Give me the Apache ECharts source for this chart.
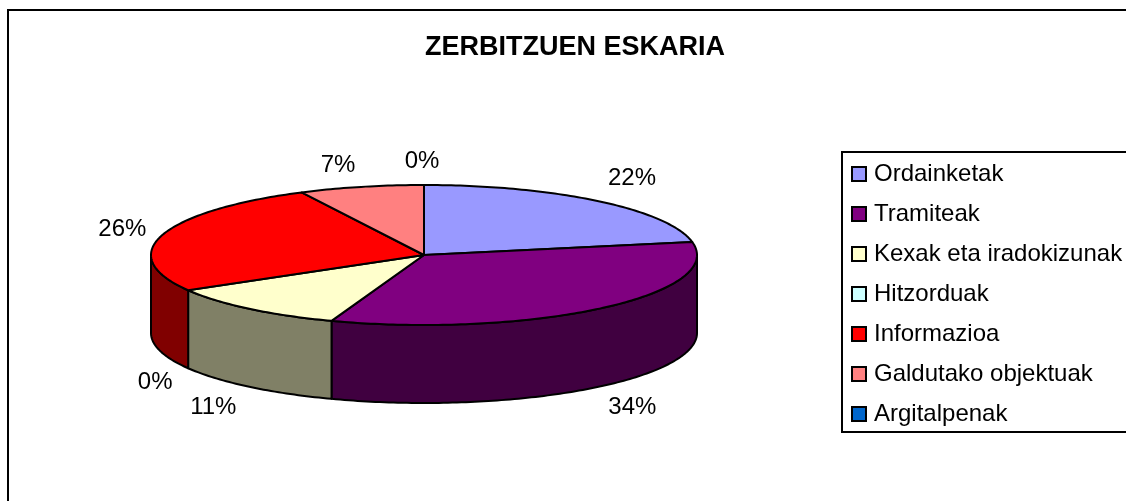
<!DOCTYPE html>
<html><head><meta charset="utf-8">
<style>html,body{margin:0;padding:0;background:#fff}#c{width:1126px;height:501px}</style>
<script src="https://cdn.jsdelivr.net/npm/echarts@6/dist/echarts.min.js"></script>
</head><body><div id="c"></div>
<script>
const titleText = 'ZERBITZUEN ESKARIA';
const categories = ['Ordainketak','Tramiteak','Kexak eta iradokizunak','Hitzorduak','Informazioa','Galdutako objektuak','Argitalpenak'];
const shares = [22.0,33.5,11.1,0,26.0,7.4,0];
const topColors = ['#9999FF','#800080','#FFFFCC','#CCFFFF','#FF0000','#FF8080','#0066CC'];
const wallColors = ['#4D4D80','#400040','#808066','#668080','#800000','#804040','#003366'];
// label offset in px from the slice's mid-rim point
const labelNudge = [[34,-23],[31,21],[-36,21],[-33,14],[-40,-6],[-23,-22],[-2,-24]];

const CX=424, CY=255, RX=273, RY=70, DEPTH=78, FONT='"Liberation Sans", Arial, sans-serif';
const total = shares.reduce((a,b)=>a+b,0);
const pt = (t,dy=0)=>[CX+RX*Math.sin(t), CY-RY*Math.cos(t)+dy];
function arc(a,b,dy=0){const n=Math.max(2,Math.ceil(Math.abs(b-a)*60)),o=[];for(let i=0;i<=n;i++)o.push(pt(a+(b-a)*i/n,dy));return o;}
const edge={stroke:'#000',lineWidth:2,lineJoin:'round'};

function makeRender(i){
  return function(params,api){
    const v=api.value(0);
    let before=0; for(let k=0;k<i;k++) before+=shares[k];
    const a=before/total*2*Math.PI, b=(before+v)/total*2*Math.PI, mid=(a+b)/2;
    const kids=[];
    if(v>0){
      const wa=Math.max(a,Math.PI/2), wb=Math.min(b,3*Math.PI/2);
      if(wb>wa){
        const top=arc(wa,wb), bot=arc(wa,wb,DEPTH).reverse();
        kids.push({type:'polygon',z2:1,shape:{points:top.concat(bot)},style:Object.assign({fill:wallColors[i]},edge)});
      }
      kids.push({type:'polygon',z2:2,shape:{points:[[CX,CY]].concat(arc(a,b))},style:Object.assign({fill:topColors[i]},edge)});
    }
    const front=mid>Math.PI/2&&mid<3*Math.PI/2;
    const p=pt(mid,front?DEPTH:0), nudge=labelNudge[i];
    kids.push({type:'text',z2:3,style:{text:Math.round(v)+'%',x:p[0]+nudge[0],y:p[1]+nudge[1],align:'center',verticalAlign:'middle',font:'24px '+FONT,fill:'#000'}});
    return {type:'group',children:kids};
  };
}

const chart=echarts.init(document.getElementById('c'),null,{renderer:'canvas'});
chart.setOption({
  animation:false,
  backgroundColor:'#fff',
  title:{text:titleText,left:420,top:29,textStyle:{fontFamily:FONT,fontSize:27,fontWeight:'bold',color:'#000'}},
  legend:{
    orient:'vertical',left:842,top:152,padding:[10,40,6,9],itemGap:16,itemWidth:14,itemHeight:14,
    borderColor:'#000',borderWidth:2,backgroundColor:'#fff',icon:'rect',selectedMode:false,
    itemStyle:{borderColor:'#000',borderWidth:2},
    textStyle:{fontFamily:FONT,fontSize:24,color:'#000',padding:[0,0,0,3]},
    data:categories
  },
  graphic:[{type:'rect',silent:true,shape:{x:8,y:10,width:1300,height:700},style:{fill:'none',stroke:'#000',lineWidth:2},z:0}],
  series:categories.map((name,i)=>({
    type:'custom',name,coordinateSystem:'none',silent:true,
    itemStyle:{color:topColors[i]},
    renderItem:makeRender(i),
    data:[[shares[i]]]
  }))
});
</script></body></html>
